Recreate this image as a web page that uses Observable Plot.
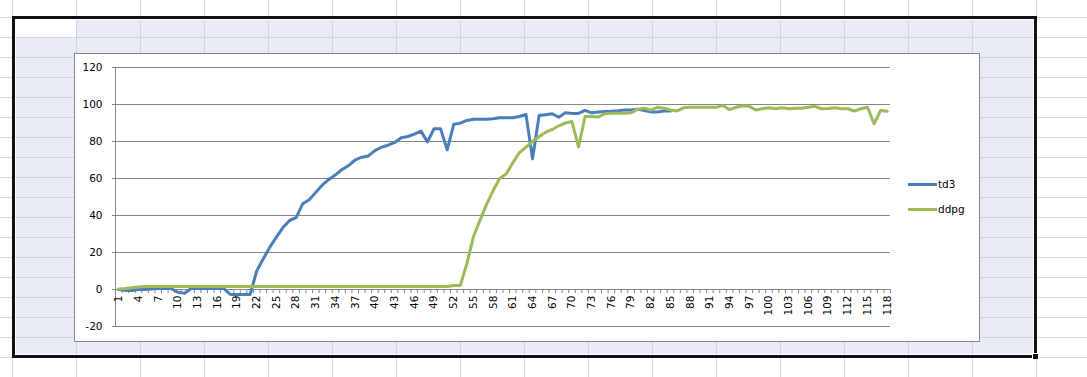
<!DOCTYPE html>
<html>
<head>
<meta charset="utf-8">
<script src="https://cdn.jsdelivr.net/npm/d3@7"></script>
<script src="https://cdn.jsdelivr.net/npm/@observablehq/plot@0.6"></script>
<style>
  html, body { margin: 0; padding: 0; overflow: hidden; background: #fff; }
  #page {
    position: relative; width: 1087px; height: 377px; overflow: hidden;
    background-color: #fff;
    background-image:
      linear-gradient(to right, #d4d9e6 1px, transparent 1px),
      linear-gradient(to bottom, #d4d9e6 1px, transparent 1px);
    background-size: 64px 20px;
    background-position: 12px 17px;
  }
  #sel {
    position: absolute; left: 12px; top: 16px; width: 1025px; height: 342px;
    box-sizing: border-box; border: 3px solid #111;
    background-color: #e8ebf4;
    background-image:
      linear-gradient(to right, #cfd4e2 1px, transparent 1px),
      linear-gradient(to bottom, #cfd4e2 1px, transparent 1px);
    background-size: 64px 20px;
    background-origin: border-box;
    background-position: 0px 1px;
    box-shadow: inset 0 0 0 1px #fff;
  }
  #active { position: absolute; left: 15px; top: 19px; width: 61px; height: 18px; background: #fff; }
  #handle { position: absolute; left: 1033px; top: 354px; width: 5px; height: 5px; background: #111; outline: 1px solid #fff; }
  #chartbox {
    position: absolute; left: 74px; top: 53px; width: 906px; height: 289px;
    box-sizing: border-box; border: 1px solid #868686; background: #fff;
  }
  #plot { position: absolute; left: 0; top: 0; }
  .leg { position: absolute; left: 908px; display: flex; align-items: center;
         font-family: "DejaVu Sans", sans-serif; font-size: 10.5px; color: #000; height: 12px; }
  .leg .sw { width: 29px; height: 3px; margin-right: 1px; }
</style>
</head>
<body>
<div id="page">
  <div id="sel"></div>
  <div id="active"></div>
  <div id="chartbox"></div>
  <div id="plot"></div>
  <div class="leg" style="top:178px"><div class="sw" style="background:#4a7ebb"></div><span>td3</span></div>
  <div class="leg" style="top:203px"><div class="sw" style="background:#9bbb59"></div><span>ddpg</span></div>
  <div id="handle"></div>
</div>
<script>
// ---- data ----
const categories = d3.range(1, 119); // episode index 1..118
const xTickLabels = categories.filter(c => (c - 1) % 3 === 0);
const yTicks = [-20, 0, 20, 40, 60, 80, 100, 120];
const seriesNames = ["td3", "ddpg"];
const seriesColors = ["#4a7ebb", "#9bbb59"];

const td3 = [
  0, -0.5, -0.5, 0, 0, 0.3, 0.5, 0.5, 0.5, -1.5,
  -2, 0.5, 0.5, 0.5, 0.5, 0.5, 0.5, -2.7, -2.7, -2.7,
  -2.7, 10, 16.6, 22.9, 28.3, 33.5, 37.3, 38.8, 46.3, 48.5,
  52.5, 56.5, 59.5, 62, 64.9, 67, 70.1, 71.5, 72.2, 75.1,
  76.9, 78, 79.5, 82, 82.7, 84, 85.6, 79.8, 86.9, 86.9,
  75.5, 89.3, 89.9, 91.4, 92, 92, 92, 92.3, 92.8, 92.8,
  92.8, 93.5, 94.6, 70.6, 94, 94.5, 95, 93.1, 95.5, 95.2,
  95.2, 96.8, 95.5, 96, 96.2, 96.3, 96.6, 97, 97, 97.5,
  96.8, 96, 96, 96.5, 96.5
];

const ddpg = [
  0.3, 0.6, 1, 1.4, 1.6, 1.6, 1.6, 1.6, 1.6, 1.6,
  1.6, 1.6, 1.6, 1.6, 1.6, 1.6, 1.6, 1.6, 1.6, 1.6,
  1.6, 1.6, 1.6, 1.6, 1.6, 1.6, 1.6, 1.6, 1.6, 1.6,
  1.6, 1.6, 1.6, 1.6, 1.6, 1.6, 1.6, 1.6, 1.6, 1.6,
  1.6, 1.6, 1.6, 1.6, 1.6, 1.6, 1.6, 1.6, 1.6, 1.6,
  1.6, 2.2, 2.2, 14, 28.5, 37.5, 46, 53.5, 60, 62.5,
  68.5, 74, 77, 80, 82.7, 85, 86.5, 88.5, 90, 90.8,
  77, 93.5, 93.5, 93.2, 95, 95.3, 95.3, 95.3, 95.5, 97.5,
  98, 97, 98.5, 98, 97, 96.5, 98.2, 98.5, 98.5, 98.5,
  98.5, 98.5, 99.5, 97.2, 98.5, 99.3, 99, 97, 97.7, 98.2,
  97.7, 98.2, 97.7, 98, 98, 98.5, 99, 97.7, 97.9, 98.2,
  97.7, 97.7, 96.5, 97.7, 98.5, 89.6, 96.8, 96.4
];

// ---- tables built from the arrays ----
const toRows = (arr, name) => arr.map((v, i) => ({cat: categories[i], value: v, series: name}));
const td3Rows = toRows(td3, seriesNames[0]);
const ddpgRows = toRows(ddpg, seriesNames[1]);
const xDomain = [categories[0] - 0.5, categories[categories.length - 1] + 0.5];
const boundaries = d3.range(xDomain[0], xDomain[1] + 0.01, 1);

const grid = "#868686";
const font = "DejaVu Sans, sans-serif";

const chart = Plot.plot({
  width: 1087,
  height: 377,
  marginLeft: 115,
  marginRight: 197,
  marginTop: 67,
  marginBottom: 51,
  style: {background: "transparent", fontFamily: font, fontSize: "10.5px", color: "#000", overflow: "visible"},
  x: {type: "linear", domain: xDomain, axis: null},
  y: {type: "linear", domain: [yTicks[0], yTicks[yTicks.length - 1]], axis: null},
  marks: [
    Plot.ruleY(yTicks, {y: d => d, stroke: grid, strokeWidth: 1, insetLeft: -3}),
    Plot.ruleX([xDomain[0]], {x: d => d, stroke: grid, strokeWidth: 1}),
    Plot.ruleX(boundaries, {x: d => d, y1: () => 0, y2: () => 0, insetBottom: -4, stroke: grid, strokeWidth: 1}),
    Plot.text(yTicks, {y: d => d, frameAnchor: "left", text: d => String(d), textAnchor: "end", dx: -13, fill: "#000", fontSize: 10.5}),
    Plot.text(xTickLabels, {x: d => d, y: () => 0, text: d => String(d), rotate: -90, textAnchor: "end", lineAnchor: "middle", dy: 6, fill: "#000", fontSize: 10.5}),
    Plot.line(td3Rows, {x: "cat", y: "value", stroke: seriesColors[0], strokeWidth: 3, strokeLinejoin: "round", strokeLinecap: "round"}),
    Plot.line(ddpgRows, {x: "cat", y: "value", stroke: seriesColors[1], strokeWidth: 3, strokeLinejoin: "round", strokeLinecap: "round"})
  ]
});
document.getElementById("plot").appendChild(chart);
</script>
</body>
</html>
